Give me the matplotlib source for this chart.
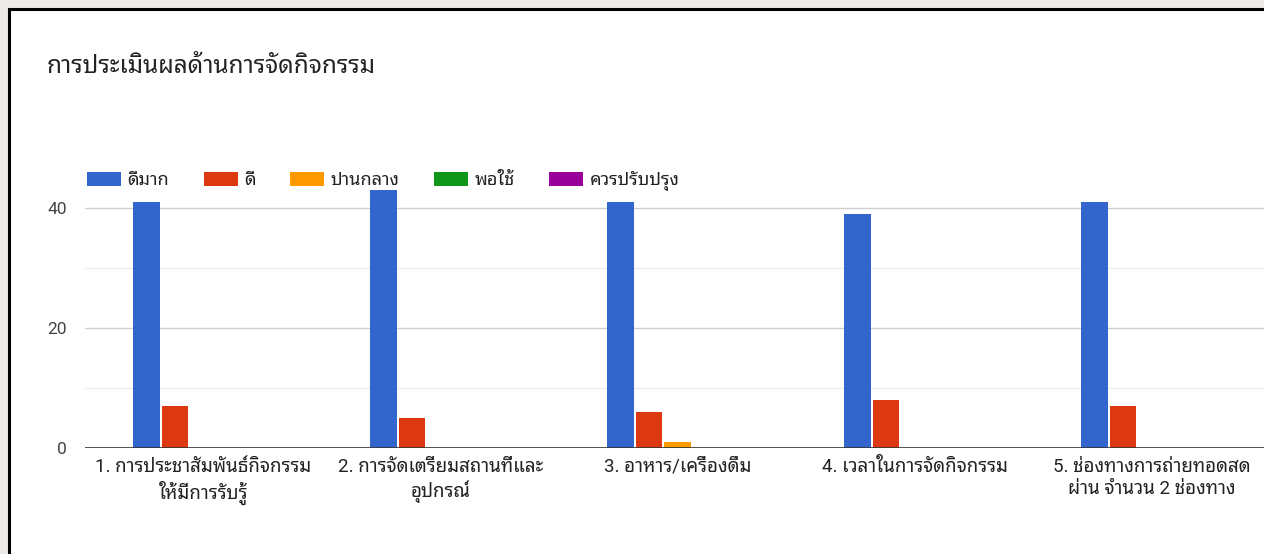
import numpy as np
import matplotlib
matplotlib.use("Agg")
import matplotlib.pyplot as plt
from matplotlib.patches import Rectangle, Patch

plt.rcParams['font.family'] = ['Roboto', 'Noto Sans Thai Looped', 'DejaVu Sans']

# data
categories = ["1. การประชาสัมพันธ์กิจกรรม\nให้มีการรับรู้",
              "2. การจัดเตรียมสถานที่และ\nอุปกรณ์",
              "3. อาหาร/เครื่องดื่ม",
              "4. เวลาในการจัดกิจกรรม",
              "5. ช่องทางการถ่ายทอดสด\nผ่าน จำนวน 2 ช่องทาง"]
series_names = ["ดีมาก", "ดี", "ปานกลาง", "พอใช้", "ควรปรับปรุง"]
very_good = [41, 43, 41, 39, 41]
good = [7, 5, 6, 8, 7]
fair = [0, 0, 1, 0, 0]
ok = [0, 0, 0, 0, 0]
improve = [0, 0, 0, 0, 0]
yticks = [0, 20, 40]
title = "การประเมินผลด้านการจัดกิจกรรม"

colors = ["#3366cc", "#dc3912", "#ff9900", "#109618", "#990099"]
W, H = 1264, 554

fig = plt.figure(figsize=(W / 100, H / 100), dpi=100)
fig.patch.set_facecolor("#ebeae6")
# white card with black border (goes past right and bottom edges)
card = Rectangle((9 / W, -0.05), 1.1, 1 - 9 / H + 0.05,
                 transform=fig.transFigure, facecolor="white",
                 edgecolor="black", linewidth=2.2, zorder=-10)
fig.patches.append(card)

fig.text(47 / W, 1 - 67 / H, title, fontsize=17.5, color="#222222", va="center")

ax = fig.add_axes([85 / W, 106 / H, (W - 85) / W, 258.5 / H])
ax.set_facecolor("none")

x = np.arange(len(categories))
bw = 0.12
all_series = [very_good, good, fair, ok, improve]
for j, vals in enumerate(all_series):
    ax.bar(x + (j - 2) * bw, vals, width=bw * 0.93, color=colors[j],
           linewidth=0, zorder=3, label=series_names[j])

ax.set_xlim(-0.5, -0.5 + (W - 85) / 237)
ax.set_ylim(0, 43)

for v in [10, 30]:
    ax.axhline(v, color="#ececec", linewidth=1, zorder=1)
for v in [20, 40]:
    ax.axhline(v, color="#cfcfcf", linewidth=1, zorder=1)
ax.axhline(0, color="#333333", linewidth=1.2, zorder=4)

ax.set_yticks(yticks)
ax.set_yticklabels([str(v) for v in yticks])
ax.set_xticks(x)
ax.set_xticklabels(categories, linespacing=1.3)
ax.tick_params(axis="y", length=0, pad=13, labelsize=12.5, labelcolor="#444444")
ax.tick_params(axis="x", length=0, pad=7, labelsize=13.5, labelcolor="#222222")
for s in ax.spines.values():
    s.set_visible(False)

handles = [Patch(facecolor=c, edgecolor="none") for c in colors]
fig.legend(handles, series_names, loc="center left",
           bbox_to_anchor=(78 / W, 1 - 181 / H), ncol=5, frameon=False,
           fontsize=13, handlelength=1.9, handleheight=0.8,
           handletextpad=0.35, columnspacing=1.9, borderpad=0,
           labelcolor="#222222")

fig.savefig("out.png", dpi=100)
